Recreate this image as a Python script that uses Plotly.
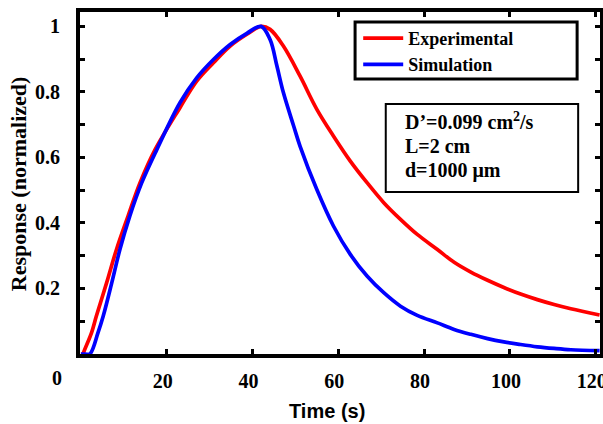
import plotly.graph_objects as go

# Experimental (red) curve
exp_t = [0.0, 0.4, 0.9, 2.5, 3.6, 6.0, 8.3, 11.0, 13.8, 17.3, 23.1, 27.0, 30.9, 34.8, 38.7, 42.0,
         44.1, 47.2, 51.1, 55.0, 58.9, 62.8, 66.7, 70.6, 74.5, 78.4, 83.1, 87.0, 90.9,
         94.8, 98.6, 102.5, 106.4, 110.3, 114.2, 120.9]
exp_r = [0.0, 0.0, 0.014, 0.065, 0.115, 0.217, 0.319, 0.421, 0.523, 0.624, 0.752, 0.833, 0.889, 0.94, 0.976, 1.0,
         0.991, 0.94, 0.848, 0.747, 0.665, 0.589, 0.523, 0.462, 0.411, 0.365, 0.319, 0.280, 0.250,
         0.225, 0.203, 0.183, 0.166, 0.151, 0.138, 0.119]

# Simulation (blue) curve
sim_t = [0.0, 1.0, 2.1, 4.0, 5.2, 7.2, 9.1, 11.4, 14.2, 17.7, 23.1, 27.0, 30.9, 34.8, 38.7, 42.0,
         44.1, 45.7, 47.2, 49.6, 51.1, 55.0, 58.9, 62.8, 66.7, 70.6, 74.5, 78.4, 83.1, 87.0,
         90.9, 94.8, 98.6, 102.5, 106.4, 110.3, 114.2, 120.9]
sim_r = [0.0, 0.0, 0.0, 0.065, 0.115, 0.217, 0.319, 0.421, 0.523, 0.624, 0.767, 0.843, 0.899, 0.945, 0.979, 1.0,
         0.96, 0.879, 0.798, 0.696, 0.634, 0.502, 0.39, 0.304, 0.238, 0.187, 0.146, 0.118, 0.095, 0.075,
         0.06, 0.047, 0.037, 0.029, 0.022, 0.017, 0.013, 0.01]

x_ticks = [20, 40, 60, 80, 100, 120]
x_ticktext = ["20", "40", "60", "80", "100", "120"]
y_ticks = [0.2, 0.4, 0.6, 0.8, 1.0]
y_ticktext = ["0.2", "0.4", "0.6", "0.8", "1"]

info_lines = ["D’=0.099 cm<sup>2</sup>/s", "L=2 cm", "d=1000 μm"]

SERIF = "Liberation Serif"
SANS = "Liberation Sans"

fig = go.Figure()
fig.add_trace(go.Scatter(x=exp_t, y=exp_r, mode="lines", name="Experimental",
                         line=dict(color="#ff0000", width=3.7, shape="spline", smoothing=1.0)))
fig.add_trace(go.Scatter(x=sim_t, y=sim_r, mode="lines", name="Simulation",
                         line=dict(color="#0000ff", width=3.7, shape="spline", smoothing=1.0)))

axis_common = dict(showline=True, linecolor="black", linewidth=4, mirror="allticks",
                   ticks="inside", tickcolor="black", tickwidth=3, ticklen=5,
                   showgrid=False, zeroline=False, automargin=False,
                   tickfont=dict(family=SERIF, size=20, color="black", weight="bold"))

fig.update_xaxes(range=[-0.2, 121], tickmode="array", tickvals=x_ticks, ticktext=x_ticktext,
                 ticklabelstandoff=6, ticklabeloverflow="allow", ticklabelshift=-4,
                 **axis_common)
fig.update_yaxes(range=[0, 1.044], tickmode="array", tickvals=y_ticks, ticktext=y_ticktext,
                 ticklabelstandoff=12,
                 minor=dict(dtick=0.1, ticks="inside", ticklen=5, tickwidth=3, tickcolor="black"),
                 **axis_common)

annotations = [
    dict(text="0", x=-0.044, y=-0.07, xref="paper", yref="paper", showarrow=False,
         xanchor="center", yanchor="middle",
         font=dict(family=SERIF, size=20, color="black", weight="bold")),
    dict(text="Time (s)", x=0.475, y=-0.167, xref="paper", yref="paper", showarrow=False,
         xanchor="center", yanchor="middle",
         font=dict(family=SANS, size=20, color="black", weight="bold")),
    dict(text="Response (normalized)", x=-0.119, y=0.497, xref="paper", yref="paper",
         showarrow=False, textangle=-90, xanchor="center", yanchor="middle",
         font=dict(family=SERIF, size=22, color="black", weight="bold")),
]
for txt, yy in zip(info_lines, [0.681, 0.608, 0.538]):
    annotations.append(dict(text=txt, x=0.621, y=yy, xref="paper", yref="paper",
                            xanchor="left", yanchor="middle", showarrow=False,
                            font=dict(family=SERIF, size=20, color="black", weight="bold")))

shapes = [
    dict(type="rect", xref="paper", yref="paper", x0=0.529, x1=0.956, y0=0.804, y1=0.971,
         line=dict(color="black", width=3), fillcolor="white", layer="below"),
    dict(type="rect", xref="paper", yref="paper", x0=0.588, x1=0.958, y0=0.474, y1=0.731,
         line=dict(color="black", width=2), fillcolor="rgba(0,0,0,0)"),
]

fig.update_layout(
    width=603, height=424,
    margin=dict(l=80, r=3, t=12, b=70, autoexpand=False),
    paper_bgcolor="white", plot_bgcolor="white",
    showlegend=True,
    legend=dict(x=0.535, y=0.977, xanchor="left", yanchor="top",
                bgcolor="rgba(0,0,0,0)", borderwidth=0,
                font=dict(family=SERIF, size=18, color="black", weight="bold"),
                itemwidth=40, tracegroupgap=0),
    annotations=annotations,
    shapes=shapes,
)

fig.write_html("out.html", config={"displayModeBar": False},
               post_script="document.body.style.margin='0';document.body.style.padding='0';")
